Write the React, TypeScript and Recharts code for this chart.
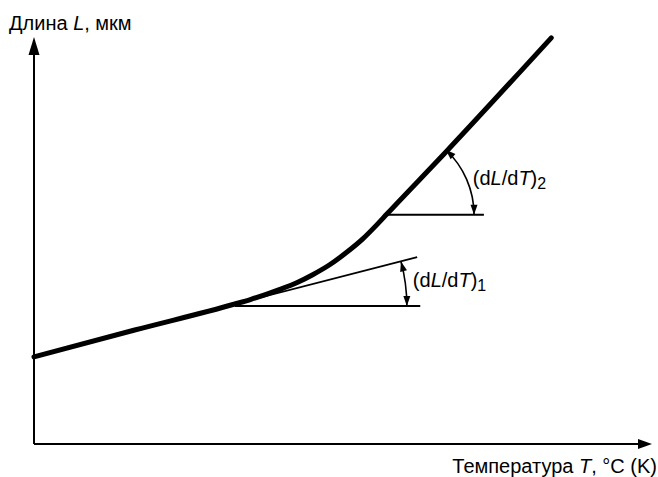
import React from "react";
import { LineChart, Line, XAxis, YAxis, ReferenceLine, ReferenceDot } from "recharts";

// Thick dilatometric curve (arbitrary units, 0..100)
const temperature = [0, 16.3, 32.5, 35.0, 39.8, 42.6, 45.1, 47.9, 50.6, 53.2, 55.5, 57.1, 66.8, 83.7];
const lengthValues = [21.4, 28.0, 34.4, 35.5, 38.0, 39.7, 41.6, 44.1, 47.1, 50.4, 53.9, 56.5, 72.0, 99.8];

// construction lines
const tangentStart = { x: 32.5, y: 34.4 };
const tangentEnd = { x: 62.0, y: 45.9 };
const base1 = [{ x: 32.5, y: 33.9 }, { x: 62.5, y: 33.9 }];
const base2 = [{ x: 56.8, y: 56.3 }, { x: 72.8, y: 56.3 }];

// angle annotations: center point, radius (px), angle (deg)
const arc1 = { x: 32.5, y: 33.9, r: 172, deg: 15 };
const arc2 = { x: 56.8, y: 56.3, r: 89, deg: 47 };
const label1 = { x: 61.3, y: 38.6, sub: "1" };
const label2 = { x: 71.0, y: 63.6, sub: "2" };

const yTitle = "Длина ";
const xTitle = "Температура ";

const data = temperature.map((t, i) => ({ t, len: lengthValues[i] }));

const FONT = "'Liberation Sans', Arial, sans-serif";
const INK = "#000";

const arrowHead = (tx: number, ty: number, dx: number, dy: number, len = 10, half = 3.5) => {
  const bx = tx - dx * len;
  const by = ty - dy * len;
  const px = -dy * half;
  const py = dx * half;
  return `${tx},${ty} ${bx + px},${by + py} ${bx - px},${by - py}`;
};

const ArcShape = (r: number, deg: number) => (props: any) => {
  const { cx, cy } = props;
  const a = (deg * Math.PI) / 180;
  const ex = cx + r * Math.cos(a);
  const ey = cy - r * Math.sin(a);
  return (
    <g>
      <path d={`M${cx + r},${cy} A${r},${r} 0 0 0 ${ex},${ey}`} fill="none" stroke={INK} strokeWidth={1.6} />
      <polygon points={arrowHead(cx + r, cy, 0, 1)} fill={INK} />
      <polygon points={arrowHead(ex, ey, -Math.sin(a), -Math.cos(a))} fill={INK} />
    </g>
  );
};

const SlopeLabel = (sub: string) => (props: any) => (
  <text x={props.cx} y={props.cy} fontFamily={FONT} fontSize={20} fill={INK}>
    (d<tspan fontStyle="italic">L</tspan>/d<tspan fontStyle="italic">T</tspan>)
    <tspan fontSize={16} dy={4}>{sub}</tspan>
  </text>
);

const App: React.FC = () => {
  return (
    <div style={{ position: "absolute", left: 0, top: 0, width: 658, height: 477, background: "#fff" }}>
      <LineChart width={658} height={477} data={data} margin={{ top: 37, right: 6, bottom: 33, left: 34 }}>
        <XAxis type="number" dataKey="t" domain={[0, 100]} hide />
        <YAxis type="number" domain={[0, 100]} hide />

        {/* axes with arrows */}
        <ReferenceLine segment={[{ x: 0, y: 0 }, { x: 98, y: 0 }]} stroke={INK} strokeWidth={2} />
        <ReferenceLine segment={[{ x: 0, y: 0 }, { x: 0, y: 97 }]} stroke={INK} strokeWidth={2} />
        <ReferenceDot
          x={0}
          y={100}
          shape={(p: any) => (
            <g>
              <polygon points={`${p.cx},${p.cy} ${p.cx - 5.5},${p.cy + 18} ${p.cx + 5.5},${p.cy + 18}`} fill={INK} />
              <text x={p.cx - 25} y={p.cy - 7} fontFamily={FONT} fontSize={20} fill={INK}>
                {yTitle}
                <tspan fontStyle="italic">L</tspan>, мкм
              </text>
            </g>
          )}
        />
        <ReferenceDot
          x={100}
          y={0}
          shape={(p: any) => (
            <g>
              <polygon points={`${p.cx},${p.cy} ${p.cx - 14},${p.cy - 5} ${p.cx - 14},${p.cy + 5}`} fill={INK} />
              <text x={p.cx + 5} y={p.cy + 29} textAnchor="end" fontFamily={FONT} fontSize={20} fill={INK}>
                {xTitle}
                <tspan fontStyle="italic">T</tspan>, °C (K)
              </text>
            </g>
          )}
        />

        {/* tangent and horizontal construction lines */}
        <ReferenceLine segment={[tangentStart, tangentEnd]} stroke={INK} strokeWidth={1.8} />
        <ReferenceLine segment={base1} stroke={INK} strokeWidth={2} />
        <ReferenceLine segment={base2} stroke={INK} strokeWidth={2} />

        <ReferenceDot x={arc1.x} y={arc1.y} shape={ArcShape(arc1.r, arc1.deg)} />
        <ReferenceDot x={arc2.x} y={arc2.y} shape={ArcShape(arc2.r, arc2.deg)} />
        <ReferenceDot x={label1.x} y={label1.y} shape={SlopeLabel(label1.sub)} />
        <ReferenceDot x={label2.x} y={label2.y} shape={SlopeLabel(label2.sub)} />

        <Line
          type="monotone"
          dataKey="len"
          stroke={INK}
          strokeWidth={5}
          strokeLinecap="round"
          dot={false}
          activeDot={false}
          isAnimationActive={false}
        />
      </LineChart>
    </div>
  );
};

export default App;
